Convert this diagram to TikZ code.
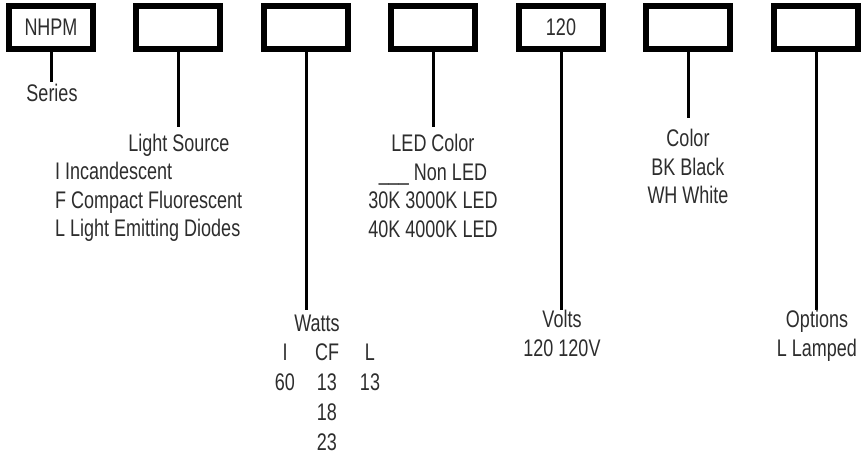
\documentclass[tikz,border=0pt]{standalone}
\usepackage{fontspec}
\setmainfont{Liberation Sans}[FakeStretch=0.75]
\usetikzlibrary{positioning}
\definecolor{labelgray}{RGB}{45,45,45}

\tikzset{
  codebox/.style={draw=black,line width=6.5pt,minimum width=84pt,
    minimum height=43pt,inner sep=0pt,text=labelgray,font=\fontsize{24}{28.5}\selectfont},
  leader/.style={draw=black,line width=3pt},
  fieldtext/.style={inner sep=0pt,text=labelgray,font=\fontsize{24}{28.5}\selectfont},
  heading/.style={fieldtext,anchor=north,align=center},
  wattcol/.style={heading,font=\fontsize{24}{30}\selectfont}
}

\begin{document}
\begin{tikzpicture}[x=1pt,y=1pt]
  \useasboundingbox (0,0) rectangle (863,-461);

  % the seven code boxes
  \node[codebox] (series) at (51,-27.5)  {NHPM};
  \node[codebox] (source) at (178,-27.5) {};
  \node[codebox] (watt)   at (306,-27.5) {};
  \node[codebox] (led)    at (433,-27.5) {};
  \node[codebox] (volt)   at (561,-27.5) {120};
  \node[codebox] (finish) at (688,-27.5) {};
  \node[codebox] (option) at (816,-27.5) {};

  % leader ends
  \coordinate (seriesend) at (51,-82);
  \coordinate (sourceend) at (178,-127);
  \coordinate (wattend)   at (306,-310);
  \coordinate (ledend)    at (433,-127);
  \coordinate (voltend)   at (561,-310);
  \coordinate (finishend) at (688,-118);
  \coordinate (optionend) at (816,-310);

  \draw[leader] (series.south) -- (seriesend);
  \draw[leader] (source.south) -- (sourceend);
  \draw[leader] (watt.south)   -- (wattend);
  \draw[leader] (led.south)    -- (ledend);
  \draw[leader] (volt.south)   -- (voltend);
  \draw[leader] (finish.south) -- (finishend);
  \draw[leader] (option.south) -- (optionend);

  % field descriptions
  \node[heading] (serieslbl) at (52,-84) {Series};

  \node[heading] (sourcelbl) at (179,-134) {Light Source};
  \node[fieldtext,anchor=north west,align=left] (sourcelist) at (55,-162)
    {I Incandescent\\F Compact Fluorescent\\L Light Emitting Diodes};

  \node[heading] (wattlbl) at (317,-315) {Watts};
  \node[wattcol] (wattI)  at (285,-344) {I\\60};
  \node[wattcol] (wattCF) at (327,-344) {CF\\13\\18\\23};
  \node[wattcol] (wattL)  at (370,-344) {L\\13};

  \node[heading] (ledlbl) at (433,-134)
    {LED Color\\\_\_\_ Non LED\\30K 3000K LED\\40K 4000K LED};

  \node[heading] (voltlbl) at (562,-310) {Volts\\120 120V};

  \node[heading] (finishlbl) at (688,-129) {Color\\BK Black\\WH White};

  \node[heading] (optionlbl) at (817,-310) {Options\\L Lamped};
\end{tikzpicture}
\end{document}
